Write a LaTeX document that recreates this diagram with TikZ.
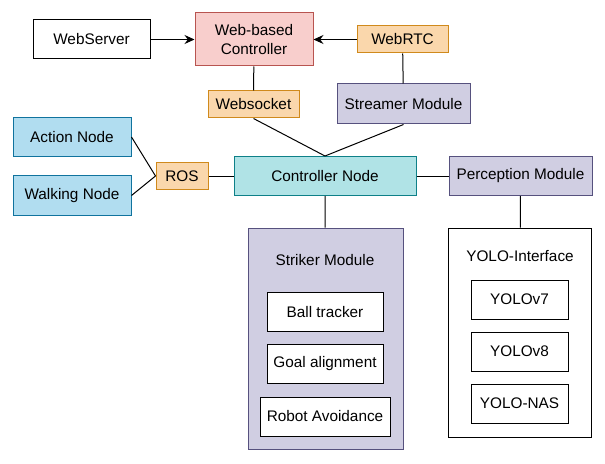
\documentclass[tikz,border=0pt]{standalone}
\usepackage{fontspec}
\setmainfont{Liberation Sans}
\usetikzlibrary{arrows.meta}

\definecolor{pinkfill}{HTML}{F8CECC}
\definecolor{pinkline}{HTML}{B85450}
\definecolor{orangefill}{HTML}{FAD7AC}
\definecolor{orangeline}{HTML}{D08A1C}
\definecolor{purplefill}{HTML}{D0CEE2}
\definecolor{purpleline}{HTML}{56517E}
\definecolor{bluefill}{HTML}{B1DDF0}
\definecolor{blueline}{HTML}{10739E}
\definecolor{tealfill}{HTML}{B0E3E6}
\definecolor{tealline}{HTML}{0E8088}

\begin{document}
\begin{tikzpicture}[
  x=0.75pt, y=-0.75pt,
  blk/.style={rectangle, draw, line width=0.75pt, align=center, inner sep=0pt, font=\fontsize{11.5}{14}\selectfont},
  proto/.style={blk, fill=orangefill, draw=orangeline, minimum width=68.25pt, minimum height=20.25pt},
  module/.style={blk, fill=purplefill, draw=purpleline},
  ros node/.style={blk, fill=bluefill, draw=blueline, minimum width=88.5pt, minimum height=29.5pt},
  title/.style={font=\fontsize{11.5}{14}\selectfont, inner sep=0pt},
  arrow/.style={-{Stealth[length=7.5pt, width=6.75pt, inset=2.5pt]}, line width=0.75pt},
  link/.style={line width=0.75pt},
]
\useasboundingbox (0,0) rectangle (605,463);

% === Web side ===
\node[blk, minimum width=87.75pt, minimum height=29.25pt] (websrv) at (91.5,39.5) {WebServer};
\node[blk, fill=pinkfill, draw=pinkline, minimum width=88.5pt, minimum height=39.75pt] (webctl) at (254,39.5) {Web-based\\Controller};
\node[proto] (webrtc) at (402.5,39.5) {WebRTC};
\node[proto] (wsock) at (253.5,104.5) {Websocket};
\node[module, minimum width=99.75pt, minimum height=30pt] (streamer) at (403.5,104) {Streamer Module};
\draw[arrow] (websrv) -- (webctl);
\draw[arrow] (webrtc) -- (webctl);
\draw[link] (webctl) -- (wsock);
\draw[link] (webrtc) -- (streamer);

% === Controller and ROS ===
\node[ros node] (action) at (72,137) {Action Node};
\node[ros node] (walking) at (72,195.5) {Walking Node};
\node[proto, minimum width=39pt, minimum height=19.5pt] (ros) at (182,176) {ROS};
\node[blk, fill=tealfill, draw=tealline, minimum width=136.5pt, minimum height=29.25pt] (ctrl) at (325,176) {Controller Node};
\node[module, minimum width=107.25pt, minimum height=29.25pt] (percep) at (520.5,176) {Perception Module};
\draw[link] (action.east) -- (ros.west);
\draw[link] (walking.east) -- (ros.west);
\draw[link] (ros) -- (ctrl);
\draw[link] (ctrl) -- (percep);
\draw[link] (wsock.south) -- (ctrl.north);
\draw[link] (streamer.south) -- (ctrl.north);

% === Striker Module ===
\node[module, minimum width=116.25pt, minimum height=165.75pt] (striker) at (325.5,338.5) {};
\node[title] (strikertitle) at (325,260) {Striker Module};
\node[blk, fill=white, minimum width=87pt, minimum height=29.25pt] (ball) at (325,312) {Ball tracker};
\node[blk, fill=white, minimum width=87pt, minimum height=29.25pt] (goal) at (325,364) {Goal alignment};
\node[blk, fill=white, minimum width=97.5pt, minimum height=29.25pt] (avoid) at (325,416.5) {Robot Avoidance};
\draw[link] (ctrl) -- (striker);

% === YOLO-Interface ===
\node[blk, minimum width=107.25pt, minimum height=156.75pt] (yolo) at (520,332.5) {};
\node[title] (yolotitle) at (520,256) {YOLO-Interface};
\foreach \name/\ypos/\txt in {v7/299.5/YOLOv7, v8/351.5/YOLOv8, nas/403.5/YOLO-NAS}
  \node[blk, minimum width=72.75pt, minimum height=29.25pt] (\name) at (519.5,\ypos) {\txt};
\draw[link] (percep) -- (yolo);

\end{tikzpicture}
\end{document}
